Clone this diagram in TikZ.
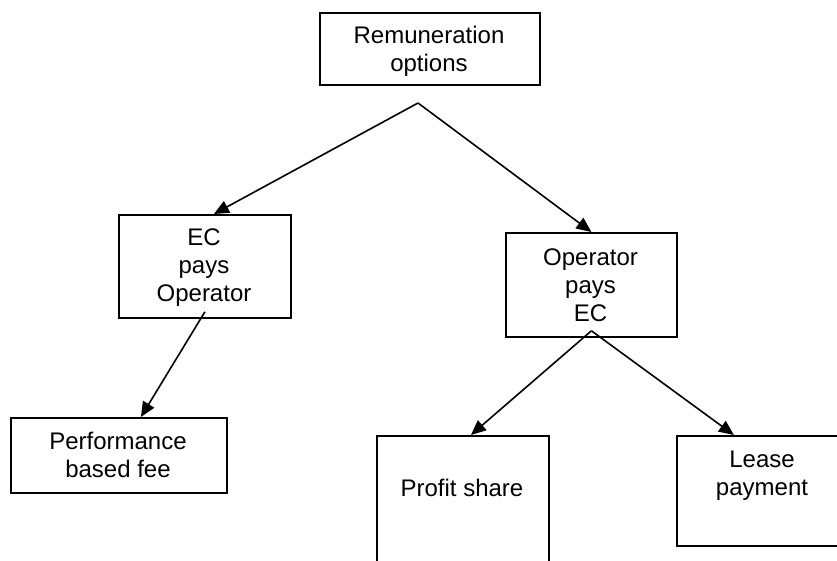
\documentclass[tikz,border=0pt]{standalone}
\usepackage{fontspec}
\setmainfont{Liberation Sans}
\usetikzlibrary{arrows.meta}
\newcommand\firstln{\rule{0pt}{18pt}}
\begin{document}
\begin{tikzpicture}[x=1pt,y=-1pt,
  box/.style={draw, line width=1.8pt, rectangle, inner sep=0pt, anchor=north west},
  lbl/.style={align=center, anchor=north, inner sep=0pt, font=\fontsize{24}{28}\selectfont},
  arr/.style={line width=1.6pt, -{Triangle[length=15pt,width=13pt]}}]
\useasboundingbox (0,0) rectangle (837,560);
\clip (0,0) rectangle (837,560);
% boxes
\node[box, minimum width=220pt, minimum height=72pt] (top) at (319,12) {};
\node[box, minimum width=172pt, minimum height=103pt] (ec) at (118,214) {};
\node[box, minimum width=171pt, minimum height=104pt] (op) at (505,232) {};
\node[box, minimum width=216pt, minimum height=75pt] (perf) at (10,417) {};
\node[box, minimum width=172pt, minimum height=140pt] (profit) at (376,435) {};
\node[box, minimum width=172pt, minimum height=110pt] (lease) at (676,435) {};
% labels
\node[lbl] (ttop) at (429,25.5) {\firstln Remuneration\\options};
\node[lbl] (tec) at (204,227) {\firstln EC\\pays\\Operator};
\node[lbl] (top2) at (590.5,247) {\firstln Operator\\pays\\EC};
\node[lbl] (tperf) at (118,431) {\firstln Performance\\based fee};
\node[lbl] (tprofit) at (462,478) {\firstln Profit share};
\node[lbl] (tlease) at (762,449) {\firstln Lease\\payment};
% junction points
\coordinate (j1) at (418,103);
\coordinate (j2) at ([yshift=7pt]ec.south);
\coordinate (j3) at ([yshift=7pt]op.south);
% arrows
\draw[arr] (j1) -- ([xshift=9pt]ec.north);
\draw[arr] (j1) -- (op.north);
\draw[arr] (j2) -- ([xshift=22pt]perf.north);
\draw[arr] (j3) -- ([xshift=8pt]profit.north);
\draw[arr] (j3) -- ([xshift=-29pt]lease.north);
\end{tikzpicture}
\end{document}
